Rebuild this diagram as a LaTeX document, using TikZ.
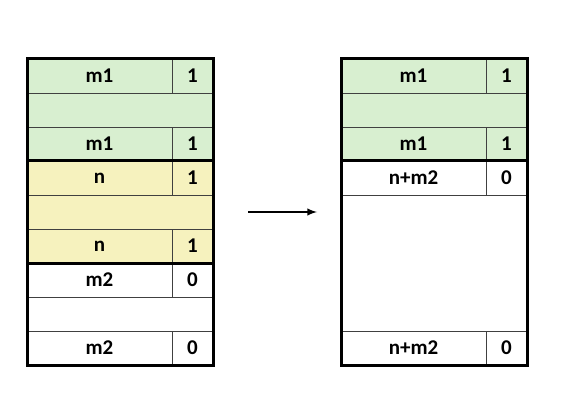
\documentclass[tikz,border=0pt]{standalone}
\usepackage{fontspec}
\setmainfont{Carlito}
\usetikzlibrary{positioning}
\definecolor{pastelgreen}{RGB}{216,239,208}
\definecolor{pastelyellow}{RGB}{246,242,190}

\tikzset{
  cell/.style={draw=black!75, line width=0.9pt, outer sep=0pt, inner sep=0pt,
    minimum height=34pt, font=\bfseries\fontsize{21}{21}\selectfont},
  wide/.style={cell, minimum width=145pt},
  flag/.style={cell, minimum width=41pt},
  full/.style={cell, minimum width=186pt},
  group/.style={draw=black, line width=3pt},
}

\begin{document}
\begin{tikzpicture}[x=1pt, y=-1pt]
    \useasboundingbox (0,0) rectangle (567,406);

    % Left block: freed m1, allocated n, freed m2
    \node[wide, fill=pastelgreen, anchor=north west] (l1) at (27,59) {m1};
    \node[flag, fill=pastelgreen, right=0pt of l1] (l1f) {1};
    \node[full, fill=pastelgreen, anchor=north west] (l2) at (l1.south west) {};
    \node[wide, fill=pastelgreen, below=0pt of l2.south west, anchor=north west] (l3) {m1};
    \node[flag, fill=pastelgreen, right=0pt of l3] (l3f) {1};

    \node[wide, fill=pastelyellow, below=0pt of l3.south west, anchor=north west] (l4) {n};
    \node[flag, fill=pastelyellow, right=0pt of l4] (l4f) {1};
    \node[full, fill=pastelyellow, below=0pt of l4.south west, anchor=north west] (l5) {};
    \node[wide, fill=pastelyellow, below=0pt of l5.south west, anchor=north west] (l6) {n};
    \node[flag, fill=pastelyellow, right=0pt of l6] (l6f) {1};

    \node[wide, fill=white, below=0pt of l6.south west, anchor=north west] (l7) {m2};
    \node[flag, fill=white, right=0pt of l7] (l7f) {0};
    \node[full, fill=white, below=0pt of l7.south west, anchor=north west] (l8) {};
    \node[wide, fill=white, below=0pt of l8.south west, anchor=north west] (l9) {m2};
    \node[flag, fill=white, right=0pt of l9] (l9f) {0};

    \draw[group] (l1.north west) rectangle (l3f.south east);
    \draw[group] (l4.north west) rectangle (l6f.south east);
    \draw[group] (l7.north west) rectangle (l9f.south east);

    % Right block: n and m2 coalesced
    \node[wide, fill=pastelgreen, anchor=north west] (r1) at (341,59) {m1};
    \node[flag, fill=pastelgreen, right=0pt of r1] (r1f) {1};
    \node[full, fill=pastelgreen, below=0pt of r1.south west, anchor=north west] (r2) {};
    \node[wide, fill=pastelgreen, below=0pt of r2.south west, anchor=north west] (r3) {m1};
    \node[flag, fill=pastelgreen, right=0pt of r3] (r3f) {1};

    \node[wide, fill=white, below=0pt of r3.south west, anchor=north west] (r4) {n+m2};
    \node[flag, fill=white, right=0pt of r4] (r4f) {0};
    \node[full, fill=white, minimum height=136pt, below=0pt of r4.south west, anchor=north west] (r5) {};
    \node[wide, fill=white, below=0pt of r5.south west, anchor=north west] (r6) {n+m2};
    \node[flag, fill=white, right=0pt of r6] (r6f) {0};

    \draw[group] (r1.north west) rectangle (r3f.south east);
    \draw[group] (r4.north west) rectangle (r6f.south east);

    % Arrow between the two states
    \coordinate (arrowstart) at (248,212);
    \coordinate (arrowend) at (317,212);
    \draw[line width=2.3pt, -latex] (arrowstart) -- (arrowend);
\end{tikzpicture}
\end{document}
